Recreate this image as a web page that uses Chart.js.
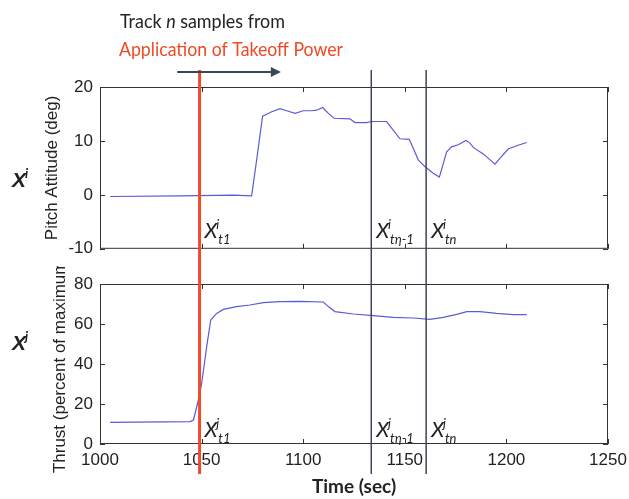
<!DOCTYPE html>
<html lang="en">
<head>
<meta charset="UTF-8">
<title>Pitch attitude and thrust during takeoff</title>
<style>
  body { margin: 0; background: #fff; }
  #wrap { position: relative; width: 629px; height: 499px; }
  #wrap canvas { position: absolute; left: 0; }
  #topChart { top: 0; }
  #bottomChart { top: 266px; }
</style>
<script src="https://cdn.jsdelivr.net/npm/chart.js"></script>
</head>
<body>
<div id="wrap">
  <canvas id="topChart" width="629" height="266"></canvas>
  <canvas id="bottomChart" width="629" height="233"></canvas>
</div>
<script>
// shared time axis
const timeTicks = [1000, 1050, 1100, 1150, 1200, 1250];
const pitchTicks = [-10, 0, 10, 20];
const thrustTicks = [0, 20, 40, 60, 80];

// pitch attitude (deg) vs time (sec)
const pitchTime = [1005, 1039.4, 1065.6, 1074.6, 1077.1, 1080, 1082.3, 1084.5, 1088.6, 1091.9,
  1096, 1100, 1104.2, 1106.6, 1109.6, 1112.4, 1115.2, 1123, 1125.5, 1131.2,
  1133.7, 1141, 1144.3, 1147.6, 1152.2, 1154.2, 1156.6, 1160, 1164, 1167,
  1169, 1170.6, 1173, 1176.3, 1180.1, 1182.1, 1183.7, 1188.6, 1194.4, 1196.9,
  1200.9, 1205, 1210];
const pitchDeg = [-0.3, -0.2, -0.05, -0.2, 6.5, 14.6, 15, 15.4, 16, 15.6,
  15.1, 15.6, 15.6, 15.7, 16.2, 15.1, 14.2, 14.1, 13.4, 13.4,
  13.6, 13.6, 12, 10.4, 10.3, 8.6, 6.5, 5.2, 4, 3.3,
  5.9, 8, 8.9, 9.3, 10.1, 9.6, 8.8, 7.6, 5.7, 6.8,
  8.5, 9.1, 9.7];

// thrust (percent of maximum) vs time (sec)
const thrustTime = [1005, 1044.3, 1046, 1048.4, 1050, 1052.5, 1054.5, 1057.4, 1060.7, 1067.2,
  1073.8, 1080.4, 1088.6, 1098.4, 1109.9, 1112.4, 1115.6, 1124.7, 1134.5, 1144.3,
  1154.2, 1162.4, 1169, 1175.5, 1180.5, 1187, 1195.2, 1203.4, 1210];
const thrustPct = [10.8, 11.2, 12, 22, 30, 48.7, 62, 65.3, 67.3, 68.7,
  69.5, 70.7, 71.2, 71.3, 71, 68.7, 66.2, 65, 64.2, 63.3,
  63, 62.3, 63.3, 64.8, 66.2, 66.2, 65.3, 64.7, 64.7];

// sample markers: takeoff power applied, sample n-1, sample n
const markerTimes = [1049, 1133.5, 1160.5];
const markerSubs = ['t1', 'tη-1', 'tn'];
const arrowSpan = [1038, 1089];

const INK = '#222';
const RED = '#ef4a2c';
const SLATE = '#3b4457';
const SANS = 'Liberation Sans, Arial, sans-serif';
const TICK_FONT = { family: SANS, size: 17 };

function points(xs, ys) {
  return xs.map((t, i) => ({ x: t, y: ys[i] }));
}

// X with superscript and subscript, e.g. X^i_t1
function drawSymbol(ctx, x, y, sup, sub, size, style) {
  const bold = style.includes('bold');
  ctx.fillStyle = INK;
  ctx.textBaseline = 'alphabetic';
  ctx.textAlign = 'left';
  ctx.font = `${style} ${size}px ${bold ? SANS : 'Lato, sans-serif'}`;
  ctx.fillText('X', x, y);
  const w = ctx.measureText('X').width;
  ctx.font = `italic ${bold ? 'bold ' : ''}${Math.round(size * 0.64)}px Lato, sans-serif`;
  ctx.fillText(sup, x + w - 1, y - size * 0.42);
  if (sub) ctx.fillText(sub, x + w + 1, y + size * 0.3);
}

// draw text runs squeezed horizontally to a given width
function drawRuns(ctx, runs, x, y, width, size, color) {
  let natural = 0;
  runs.forEach(r => { ctx.font = `${r[1]} ${size}px Lato, sans-serif`; natural += ctx.measureText(r[0]).width; });
  ctx.save();
  ctx.translate(x, y);
  ctx.scale(width / natural, 1);
  ctx.fillStyle = color;
  let cx = 0;
  runs.forEach(r => {
    ctx.font = `${r[1]} ${size}px Lato, sans-serif`;
    ctx.fillText(r[0], cx, 0);
    cx += ctx.measureText(r[0]).width;
  });
  ctx.restore();
}

function makeDecor(cfg) {
  return {
    id: 'panelDecor',
    afterDatasetsDraw(chart) {
      const { ctx, chartArea: a, scales: { x, y } } = chart;
      ctx.save();

      // box and inward tick marks
      ctx.strokeStyle = '#333';
      ctx.lineWidth = 1;
      ctx.strokeRect(a.left + 0.5, a.top + 0.5, a.width - 1, a.height - 1);
      ctx.beginPath();
      timeTicks.forEach(v => {
        const px = Math.round(x.getPixelForValue(v)) + 0.5;
        ctx.moveTo(px, a.top); ctx.lineTo(px, a.top + 5);
        ctx.moveTo(px, a.bottom); ctx.lineTo(px, a.bottom - 5);
      });
      cfg.yTicks.forEach(v => {
        const py = Math.round(y.getPixelForValue(v)) + 0.5;
        ctx.moveTo(a.left, py); ctx.lineTo(a.left + 5, py);
        ctx.moveTo(a.right, py); ctx.lineTo(a.right - 5, py);
      });
      ctx.stroke();

      // marker lines and their labels
      markerTimes.forEach((t, i) => {
        const px = x.getPixelForValue(t);
        ctx.strokeStyle = i === 0 ? RED : SLATE;
        ctx.lineWidth = i === 0 ? 3 : 1.5;
        ctx.beginPath();
        ctx.moveTo(px, cfg.lineTop === null ? 0 : a.top - cfg.lineTop);
        ctx.lineTo(px, cfg.lineBottom === null ? chart.height : a.bottom + cfg.lineBottom);
        ctx.stroke();
        drawSymbol(ctx, px + 5, a.bottom - cfg.labelGap, cfg.sup, markerSubs[i], 21, 'italic');
      });

      // panel variable on the far left
      drawSymbol(ctx, 12, a.top + cfg.sideY, cfg.sup, '', 21, 'italic bold');

      if (cfg.header) {
        ctx.textBaseline = 'alphabetic';
        ctx.textAlign = 'left';
        drawRuns(ctx, [['Track ', 'normal'], ['n', 'italic'], [' samples from', 'normal']], 120, 28, 165, 20, INK);
        drawRuns(ctx, [['Application of Takeoff Power', 'normal']], 119, 56, 224, 20, '#f04923');

        // arrow showing the tracking direction
        const x0 = x.getPixelForValue(arrowSpan[0]);
        const x1 = x.getPixelForValue(arrowSpan[1]);
        const ay = a.top - 15;
        ctx.strokeStyle = '#3c4659';
        ctx.fillStyle = '#3c4659';
        ctx.lineWidth = 2;
        ctx.beginPath(); ctx.moveTo(x0, ay); ctx.lineTo(x1 - 8, ay); ctx.stroke();
        ctx.beginPath(); ctx.moveTo(x1, ay); ctx.lineTo(x1 - 10, ay - 5); ctx.lineTo(x1 - 10, ay + 5); ctx.closePath(); ctx.fill();
      }
      ctx.restore();
    }
  };
}

function yScale(ticks, title, titlePad) {
  return {
    min: ticks[0],
    max: ticks[ticks.length - 1],
    afterBuildTicks: s => { s.ticks = ticks.map(v => ({ value: v })); },
    afterFit: s => { s.width = 100; },
    grid: { display: false, drawTicks: false },
    border: { display: false },
    ticks: { color: INK, font: TICK_FONT, padding: 7, callback: v => String(v) },
    title: {
      display: true, text: title, color: INK,
      font: { family: SANS, size: 17 },
      padding: { top: titlePad, bottom: 0 }
    }
  };
}

function lineSet(xs, ys) {
  return {
    data: points(xs, ys),
    borderColor: '#5b5bd9',
    borderWidth: 1.2,
    pointRadius: 0,
    tension: 0,
    fill: false
  };
}

const common = {
  responsive: false,
  animation: false,
  events: [],
  plugins: { legend: { display: false }, tooltip: { enabled: false } }
};

new Chart(document.getElementById('topChart'), {
  type: 'line',
  data: { datasets: [lineSet(pitchTime, pitchDeg)] },
  options: {
    ...common,
    layout: { padding: { top: 87, right: 21, bottom: 17, left: 0 } },
    scales: {
      x: { type: 'linear', display: false, min: timeTicks[0], max: timeTicks[timeTicks.length - 1] },
      y: yScale(pitchTicks, 'Pitch Attitude (deg)', 42)
    }
  },
  plugins: [makeDecor({ yTicks: pitchTicks, sup: 'i', lineTop: 17, lineBottom: null, labelGap: 11, sideY: 100, header: true })]
});

new Chart(document.getElementById('bottomChart'), {
  type: 'line',
  data: { datasets: [lineSet(thrustTime, thrustPct)] },
  options: {
    ...common,
    layout: { padding: { top: 18, right: 21, bottom: 0, left: 0 } },
    scales: {
      x: {
        type: 'linear',
        min: timeTicks[0],
        max: timeTicks[timeTicks.length - 1],
        afterBuildTicks: s => { s.ticks = timeTicks.map(v => ({ value: v })); },
        // keep the plot box the same width as the upper panel
        afterFit: s => { s.height = 55; s.paddingLeft = 0; s.paddingRight = 0; },
        grid: { display: false, drawTicks: false },
        border: { display: false },
        ticks: { color: INK, font: TICK_FONT, padding: 6, maxRotation: 0, callback: v => String(v) },
        title: {
          display: true, text: 'Time (sec)', color: INK,
          font: { family: 'Lato, sans-serif', size: 19, weight: 'bold' },
          padding: { top: 0, bottom: 1 }
        }
      },
      y: yScale(thrustTicks, 'Thrust (percent of maximum)', 50)
    }
  },
  plugins: [makeDecor({ yTicks: thrustTicks, sup: 'j', lineTop: null, lineBottom: 30, labelGap: 7, sideY: 66, header: false })]
});
</script>
</body>
</html>
